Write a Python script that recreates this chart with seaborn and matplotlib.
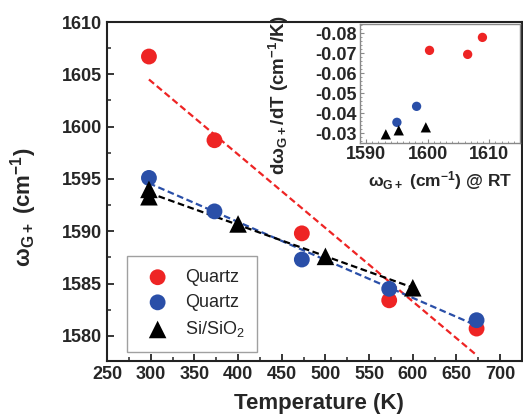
import numpy as np
import pandas as pd
import matplotlib
matplotlib.use("Agg")
import matplotlib.pyplot as plt
import seaborn as sns
from matplotlib.ticker import MultipleLocator

# ---- data (main) ----
temp_red = [298, 373, 473, 573, 673]
w_red = [1606.7, 1598.7, 1589.8, 1583.4, 1580.7]
temp_blue = [298, 373, 473, 573, 673]
w_blue = [1595.1, 1591.9, 1587.3, 1584.5, 1581.5]
temp_si = [298, 298, 400, 500, 600]
w_si = [1594.0, 1593.3, 1590.7, 1587.6, 1584.6]
labels = ["Quartz", "Quartz", "Si/SiO$_2$"]

# ---- data (inset) ----
rt_red = [1600.3, 1606.5, 1608.9]
slope_red = [-0.0715, -0.0695, -0.078]
rt_blue = [1595.0, 1598.2]
slope_blue = [-0.0355, -0.0435]
rt_si = [1593.2, 1595.3, 1599.7]
slope_si = [-0.0295, -0.0315, -0.033]

RED = "#EE2424"
BLUE = "#2A4FA8"
BLACK = "#000000"

sns.set_style("ticks")
plt.rcParams["font.family"] = ["Liberation Sans", "DejaVu Sans"]
plt.rcParams["mathtext.fontset"] = "custom"
plt.rcParams["mathtext.rm"] = "Liberation Sans"
plt.rcParams["mathtext.bf"] = "Liberation Sans:bold"
plt.rcParams["mathtext.default"] = "regular"
plt.rcParams["xtick.direction"] = "in"
plt.rcParams["ytick.direction"] = "in"

fig = plt.figure(figsize=(5.23, 4.16), dpi=100)
ax = fig.add_axes([0.2046, 0.1322, 0.7935, 0.8149])

series = [
    (temp_red, w_red, RED, "o", labels[0]),
    (temp_blue, w_blue, BLUE, "o", labels[1]),
    (temp_si, w_si, BLACK, "^", labels[2]),
]
for x, y, c, m, lab in series:
    sns.regplot(x=np.array(x, float), y=np.array(y, float), ax=ax, scatter=False, ci=None,
                color=c, line_kws=dict(ls=(0, (3, 1.6)), lw=1.6, zorder=2))
for x, y, c, m, lab in series:
    sns.scatterplot(x=x, y=y, ax=ax, color=c, marker=m, s=130 if m == "o" else 160,
                    edgecolor="none", linewidth=0, label=lab, zorder=3)

ax.set_xlim(250, 725)
ax.set_ylim(1577.6, 1610)
ax.xaxis.set_major_locator(MultipleLocator(50))
ax.xaxis.set_minor_locator(MultipleLocator(25))
ax.yaxis.set_major_locator(MultipleLocator(5))
ax.yaxis.set_minor_locator(MultipleLocator(2.5))
ax.tick_params(which="major", length=5, width=1.3, labelsize=13)
ax.tick_params(which="minor", length=3, width=1.1)
for lab in ax.get_xticklabels() + ax.get_yticklabels():
    lab.set_fontweight("bold")
for s in ax.spines.values():
    s.set_linewidth(1.5)
    s.set_color("#222222")

ax.set_xlabel("Temperature (K)", fontsize=16, fontweight="bold")
ax.xaxis.set_label_coords(0.51, -0.093)
ax.set_ylabel(r"ω$_{\mathbf{G+}}$ (cm$^{\mathbf{-1}}$)", fontsize=16, fontweight="bold")
ax.yaxis.set_label_coords(-0.165, 0.454)

leg = ax.legend(loc="lower left", bbox_to_anchor=(0.048, 0.027), borderaxespad=0,
                fontsize=13, frameon=True, fancybox=False, handletextpad=0.5,
                labelspacing=0.45, borderpad=0.7, markerscale=1.0)
leg.get_frame().set_edgecolor("#888888")
leg.get_frame().set_linewidth(1.0)

# ---- inset ----
ins = fig.add_axes([0.6883, 0.6555, 0.3059, 0.2868])
sns.scatterplot(x=rt_red, y=slope_red, ax=ins, color=RED, marker="o", s=45, edgecolor="none")
sns.scatterplot(x=rt_blue, y=slope_blue, ax=ins, color=BLUE, marker="o", s=45, edgecolor="none")
sns.scatterplot(x=rt_si, y=slope_si, ax=ins, color=BLACK, marker="^", s=55, edgecolor="none")
ins.set_xlim(1589, 1615)
ins.set_ylim(-0.025, -0.0847)
ins.xaxis.set_major_locator(MultipleLocator(10))
ins.xaxis.set_minor_locator(MultipleLocator(1))
ins.yaxis.set_minor_locator(MultipleLocator(0.002))
ins.set_yticks([-0.08, -0.07, -0.06, -0.05, -0.04, -0.03])
ins.set_yticklabels(["-0.08", "-0.07", "-0.06", "-0.05", "-0.04", "-0.03"])
ins.tick_params(which="major", length=3, width=0.8, labelsize=13, color="#888888", pad=2)
ins.tick_params(which="minor", length=1.5, width=0.6, color="#888888")
for lab in ins.get_xticklabels() + ins.get_yticklabels():
    lab.set_fontweight("bold")
for s in ins.spines.values():
    s.set_linewidth(1.0)
    s.set_color("#888888")
ins.set_xlabel(r"ω$_{\mathbf{G+}}$ (cm$^{\mathbf{-1}}$) @ RT", fontsize=12.5, fontweight="bold")
ins.xaxis.set_label_coords(0.5, -0.22)
ins.set_ylabel(r"dω$_{\mathbf{G+}}$/dT (cm$^{\mathbf{-1}}$/K)", fontsize=13.5, fontweight="bold")
ins.yaxis.set_label_coords(-0.43, 0.40)
if ins.get_legend():
    ins.get_legend().remove()

fig.savefig("out.png", dpi=100)
